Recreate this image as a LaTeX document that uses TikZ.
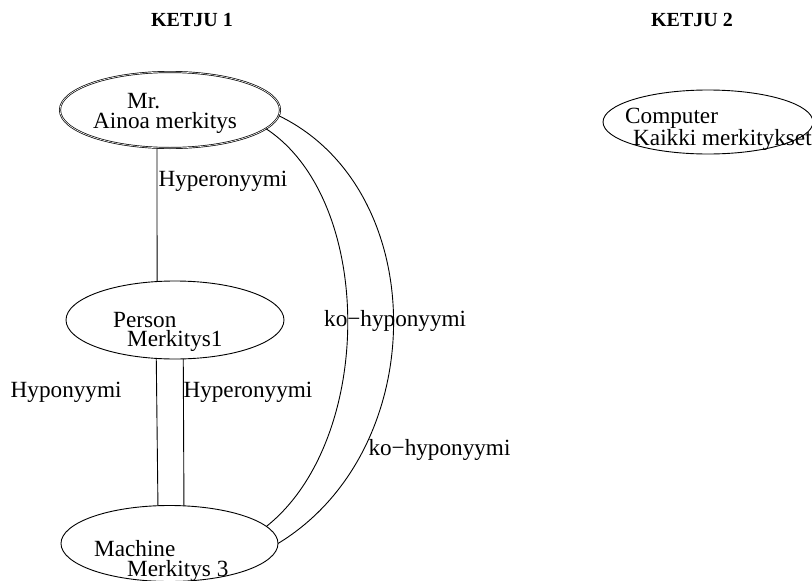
\documentclass[tikz,border=0pt]{standalone}
\usepackage{fontspec}
\setmainfont{Liberation Serif}
\usetikzlibrary{shapes.geometric}
\begin{document}
\begin{tikzpicture}[x=1pt,y=-1pt,
  sense/.style={ellipse, draw, line width=0.9pt, inner sep=0pt, outer sep=0pt},
  lbl/.style={anchor=base west, inner sep=0pt, font=\fontsize{23.2}{27}\selectfont},
  head/.style={anchor=base, inner sep=0pt, font=\fontsize{20}{24}\selectfont\bfseries},
  rel/.style={line width=0.9pt}]
\useasboundingbox (0,0) rectangle (812,581);
\fill[white] (0,0) rectangle (812,581);

% chain headings
\node[head] (h1) at (192,26.7) {KETJU 1};
\node[head] (h2) at (692,26.7) {KETJU 2};

% senses of chain 1
\node[sense, double, double distance=0.6pt, line width=0.7pt,
      minimum width=220, minimum height=76] (mr) at (170,110) {};
\node[sense, minimum width=218, minimum height=78] (person) at (175,320) {};
\node[sense, minimum width=217, minimum height=76] (machine) at (169.5,543.5) {};

% sense of chain 2
\node[sense, minimum width=210, minimum height=64] (computer) at (708,122) {};

% sense texts
\node[lbl] (t1a) at (127,108.3) {Mr.};
\node[lbl] (t1b) at (93,128.3) {Ainoa merkitys};
\node[lbl] (t2a) at (113,327) {Person};
\node[lbl] (t2b) at (127,346) {Merkitys1};
\node[lbl] (t3a) at (94,556.7) {Machine};
\node[lbl] (t3b) at (127,576.7) {Merkitys 3};
\node[lbl] (t4a) at (625,123.3) {Computer};
\node[lbl] (t4b) at (633,145) {Kaikki merkitykset};

% relations
\draw[rel] (mr.251) -- (person.115.1);
\draw[rel] (person.244.9) -- (machine.107.9);
\draw[rel] (person.282) -- (machine.69.9);
\draw[rel] (mr.349.9) .. controls (375,200) and (375,440) .. (machine.10.8);
\draw[rel] (mr.357.4) .. controls (432,190) and (432,450) .. (machine.0);

% relation labels
\node[lbl] (r1) at (158.3,186.7) {Hyperonyymi};
\node[lbl] (r2) at (10.5,397.3) {Hyponyymi};
\node[lbl] (r3) at (183.3,397.3) {Hyperonyymi};
\node[lbl] (r4) at (324,326.7) {ko−hyponyymi};
\node[lbl] (r5) at (368.3,455) {ko−hyponyymi};
\end{tikzpicture}
\end{document}
